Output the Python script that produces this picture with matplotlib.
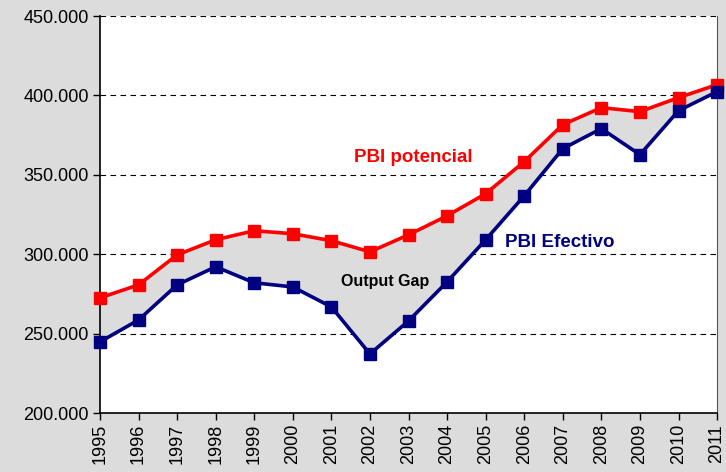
import matplotlib
matplotlib.use("Agg")
import matplotlib.pyplot as plt
import numpy as np

plt.rcParams['font.family'] = ['Liberation Sans', 'DejaVu Sans']

years = list(range(1995, 2012))
pbi_potencial = [272.5, 280.7, 299.6, 309.1, 314.8, 312.9, 308.5, 301.5, 312.2,
                 324.2, 338.1, 358.3, 381.6, 392.3, 389.8, 398.6, 406.8]
pbi_efectivo = [244.8, 258.6, 280.7, 292.1, 282.0, 279.4, 266.8, 237.2, 258.0,
                282.6, 309.1, 336.8, 366.5, 379.1, 362.7, 390.4, 402.4]
y_ticks = [200, 250, 300, 350, 400, 450]

red = "#ff0000"
navy = "#000080"

fig = plt.figure(figsize=(7.26, 4.72), dpi=100, facecolor="#dcdcdc")
ax = fig.add_axes([0.1377, 0.125, 0.85, 0.841])
ax.set_facecolor("white")

ax.fill_between(years, pbi_efectivo, pbi_potencial, color="#dcdcdc", zorder=2)
for yv in y_ticks[1:]:
    ax.axhline(yv, color="black", linestyle=(0, (5, 4)), linewidth=0.8, zorder=1)

ax.plot(years, pbi_potencial, color=red, linewidth=2.6, marker="s", markersize=8.5,
        clip_on=False, zorder=4)
ax.plot(years, pbi_efectivo, color=navy, linewidth=2.6, marker="s", markersize=8.5,
        clip_on=False, zorder=5)

ax.text(2003.12, 360.8, "PBI potencial", color=red, fontsize=13.5, fontweight="bold",
        ha="center", va="center", zorder=6)
ax.text(2006.93, 307.2, "PBI Efectivo", color=navy, fontsize=13.5, fontweight="bold",
        ha="center", va="center", zorder=6)
ax.text(2002.39, 282.6, "Output Gap", color="black", fontsize=11.5, fontweight="bold",
        ha="center", va="center", zorder=6)

ax.set_xlim(1995, 2011)
ax.set_ylim(200, 450)
ax.set_xticks(years)
ax.set_xticklabels([str(y) for y in years], rotation=90, fontsize=13)
ax.set_yticks(y_ticks)
ax.set_yticklabels([f"{v}.000" for v in y_ticks], fontsize=13)
ax.tick_params(direction="out", length=5, width=1, colors="black", pad=3)

ax.spines["top"].set_visible(False)
ax.spines["right"].set_color("#555555")
for s in ["left", "bottom"]:
    ax.spines[s].set_linewidth(1.2)

fig.savefig("out.png", dpi=100, facecolor=fig.get_facecolor())
